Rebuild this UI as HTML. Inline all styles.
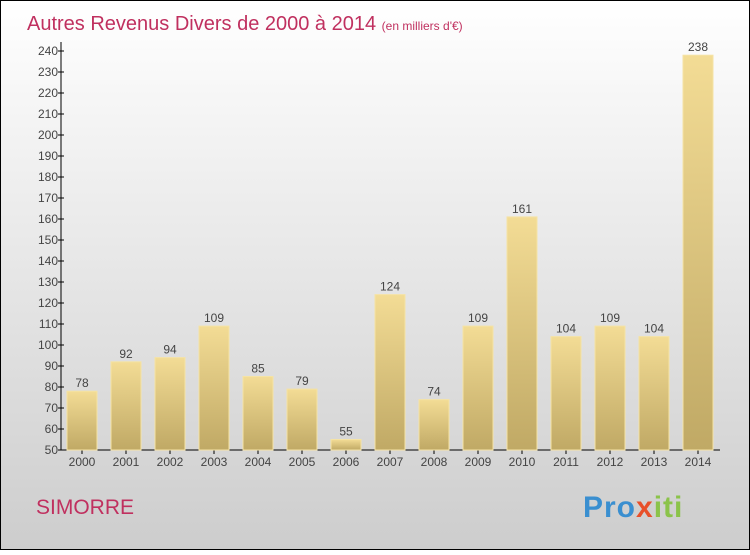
<!DOCTYPE html>
<html><head><meta charset="utf-8"><style>
body{margin:0}
#c{width:750px;height:550px;position:relative;font-family:"Liberation Sans",sans-serif}
</style></head><body>
<div id="c">
<svg width="750" height="550" xmlns="http://www.w3.org/2000/svg">
<defs>
<linearGradient id="bg" x1="0" y1="0" x2="0" y2="1"><stop offset="0" stop-color="#ffffff"/><stop offset="1" stop-color="#cdcdcd"/></linearGradient>
<linearGradient id="bar" x1="0" y1="0" x2="0" y2="1"><stop offset="0" stop-color="#f3dc95"/><stop offset="1" stop-color="#c0a965"/></linearGradient>
</defs>
<rect x="0.5" y="0.5" width="749" height="549" fill="url(#bg)" stroke="#000"/>
<text x="27" y="30" font-size="20" fill="#c0305f">Autres Revenus Divers de 2000 à 2014 <tspan font-size="12">(en milliers d'€)</tspan></text>
<g id="axes"></g>
<g id="bars"></g>
<text x="36" y="514" font-size="21" fill="#c0305f">SIMORRE</text>
<text x="583" y="517" font-size="30" font-weight="bold" letter-spacing="1" fill="#3a8fd0">Pro<tspan fill="#e8502a">x</tspan><tspan fill="#8bc34a">iti</tspan></text>
</svg>
</div>
<script>
const categories=["2000","2001","2002","2003","2004","2005","2006","2007","2008","2009","2010","2011","2012","2013","2014"];
const values=[78,92,94,109,85,79,55,124,74,109,161,104,109,104,238];
const yTicks=[50,60,70,80,90,100,110,120,130,140,150,160,170,180,190,200,210,220,230,240];
const NS="http://www.w3.org/2000/svg";
const y=v=>450-(v-50)*399/190;
const x=i=>82+i*44;
const ax=document.getElementById('axes'),bg=document.getElementById('bars');
function mk(t,a,p){const e=document.createElementNS(NS,t);for(const k in a)e.setAttribute(k,a[k]);p.appendChild(e);return e;}
let l=mk('line',{x1:61,y1:42,x2:61,y2:450,stroke:'#000'},ax);


l=mk('line',{x1:61,y1:450,x2:720,y2:450,stroke:'#000'},ax);


yTicks.forEach(v=>{
 mk('line',{x1:58,y1:y(v),x2:64,y2:y(v),stroke:'#000'},ax);
 const t=mk('text',{x:58,y:y(v)+4,'font-size':12,fill:'#444','text-anchor':'end'},ax);t.textContent=v;
 
 
});
categories.forEach((c,i)=>{
 mk('line',{x1:x(i),y1:450,x2:x(i),y2:454,stroke:'#000'},ax);
 const t=mk('text',{x:x(i),y:466,'font-size':12,fill:'#444','text-anchor':'middle'},ax);t.textContent=c;
 
 
 const r=mk('rect',{x:x(i)-15,y:y(values[i]),width:30,height:450-y(values[i]),fill:'url(#bar)',stroke:'#f5e3a5','stroke-width':1},bg);
 
 
 const v=mk('text',{x:x(i),y:y(values[i])-4,'font-size':12,fill:'#444','text-anchor':'middle'},bg);v.textContent=values[i];
 
 
});
</script>
</body></html>
